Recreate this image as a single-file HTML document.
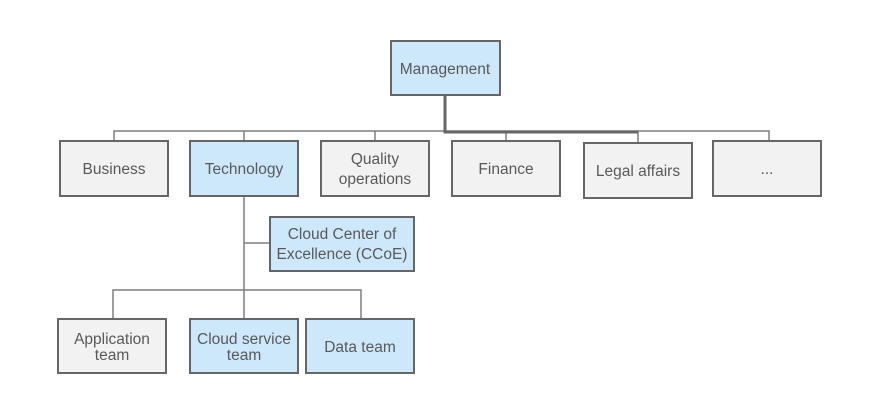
<!DOCTYPE html>
<html><head><style>body{margin:0;background:#fff}</style></head><body>
<svg width="892" height="403" xmlns="http://www.w3.org/2000/svg" font-family="Liberation Sans, sans-serif" font-size="15.5" fill="#595959">
<g stroke="#7f7f7f" stroke-width="1.5" fill="none">
<path d="M114,141 V131 H769 V141"/>
<path d="M244,131 V141 M375,131 V141 M506,131 V141 M638,131 V143"/>
<path d="M244,196 V290 M244,243 H270 M113,319 V290 H361 V319 M244,290 V319"/>
</g>
<path d="M445,95 V132 H638" stroke="#666" stroke-width="3" fill="none"/>
<g stroke="#666" stroke-width="2">
<rect x="391" y="41" width="109" height="54" fill="#cde8fb"/>
<rect x="60" y="141" width="108" height="55" fill="#f2f2f2"/>
<rect x="190" y="141" width="108" height="55" fill="#cde8fb"/>
<rect x="321" y="141" width="108" height="55" fill="#f2f2f2"/>
<rect x="452" y="141" width="108" height="55" fill="#f2f2f2"/>
<rect x="584" y="143" width="108" height="55" fill="#f2f2f2"/>
<rect x="713" y="141" width="108" height="55" fill="#f2f2f2"/>
<rect x="270" y="217" width="144" height="54" fill="#cde8fb"/>
<rect x="58" y="319" width="108" height="54" fill="#f2f2f2"/>
<rect x="190" y="319" width="108" height="54" fill="#cde8fb"/>
<rect x="306" y="319" width="108" height="54" fill="#cde8fb"/>
</g>
<g text-anchor="middle">
<text x="445" y="74">Management</text>
<text x="114" y="174">Business</text>
<text x="244" y="174">Technology</text>
<text x="375" y="164">Quality</text>
<text x="375" y="184">operations</text>
<text x="506" y="174">Finance</text>
<text x="638" y="176">Legal affairs</text>
<text x="767" y="174">...</text>
<text x="342" y="239">Cloud Center of</text>
<text x="342" y="259">Excellence (CCoE)</text>
<text x="112" y="344">Application</text>
<text x="112" y="360">team</text>
<text x="244" y="344">Cloud service</text>
<text x="244" y="360">team</text>
<text x="360" y="352">Data team</text>
</g>
</svg>
</body></html>
